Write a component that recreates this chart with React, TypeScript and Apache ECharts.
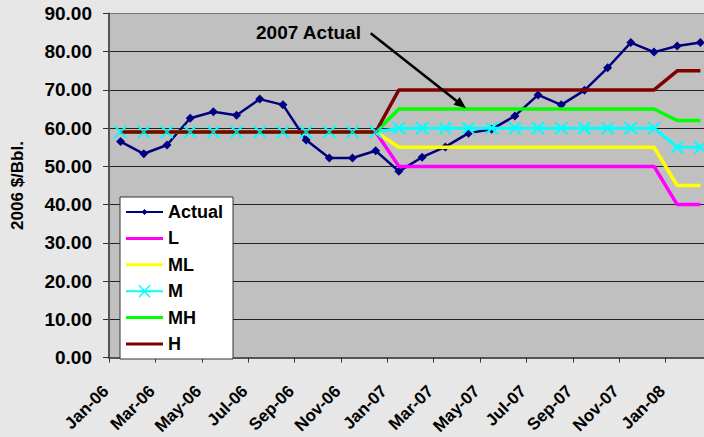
import React, { useEffect, useRef } from "react";
import * as echarts from "echarts";

const categories = [
  "Jan-06", "Feb-06", "Mar-06", "Apr-06", "May-06", "Jun-06", "Jul-06", "Aug-06", "Sep-06", "Oct-06", "Nov-06", "Dec-06",
  "Jan-07", "Feb-07", "Mar-07", "Apr-07", "May-07", "Jun-07", "Jul-07", "Aug-07", "Sep-07", "Oct-07", "Nov-07", "Dec-07",
  "Jan-08", "Feb-08",
];

const actual = [
  56.5, 53.3, 55.6, 62.6, 64.3, 63.4, 67.6, 66.1, 56.9, 52.2, 52.2, 54.1,
  48.7, 52.4, 55.1, 58.7, 59.7, 63.2, 68.7, 66.1, 69.9, 75.8, 82.4, 79.9,
  81.5, 82.4,
];
const low = [
  59, 59, 59, 59, 59, 59, 59, 59, 59, 59, 59, 59,
  50, 50, 50, 50, 50, 50, 50, 50, 50, 50, 50, 50,
  40, 40,
];
const midLow = [
  59, 59, 59, 59, 59, 59, 59, 59, 59, 59, 59, 59,
  55, 55, 55, 55, 55, 55, 55, 55, 55, 55, 55, 55,
  45, 45,
];
const mid = [
  59, 59, 59, 59, 59, 59, 59, 59, 59, 59, 59, 59,
  60, 60, 60, 60, 60, 60, 60, 60, 60, 60, 60, 60,
  55, 55,
];
const midHigh = [
  59, 59, 59, 59, 59, 59, 59, 59, 59, 59, 59, 59,
  65, 65, 65, 65, 65, 65, 65, 65, 65, 65, 65, 65,
  62, 62,
];
const high = [
  59, 59, 59, 59, 59, 59, 59, 59, 59, 59, 59, 59,
  70, 70, 70, 70, 70, 70, 70, 70, 70, 70, 70, 70,
  75, 75,
];

const yTicks = [0, 10, 20, 30, 40, 50, 60, 70, 80, 90];

const FONT = "'Liberation Sans', Arial, Helvetica, sans-serif";
const X_SYMBOL = "path://M0,1 L1,0 L5,4 L9,0 L10,1 L6,5 L10,9 L9,10 L5,6 L1,10 L0,9 L4,5 Z";

// legend icons drawn in a 37 x 14 box (tiny corner specks fix the bounding box)
const BOX = "M0,0 L0.01,0 L0,0.01 Z M37,14 L36.99,14 L37,13.99 Z ";
const ICON_LINE = "path://" + BOX + "M0,5.5 L37,5.5 L37,8.5 L0,8.5 Z";
const ICON_ACTUAL =
  "path://" + BOX + "M0,6 L37,6 L37,8 L0,8 Z M18.5,4 L21.5,7 L18.5,10 L15.5,7 Z";
const ICON_M =
  "path://" + BOX +
  "M0,6 L37,6 L37,8 L0,8 Z " +
  "M12.5,1.5 L13.5,0.5 L18.5,5.8 L23.5,0.5 L24.5,1.5 L19.4,7 L24.5,12.5 L23.5,13.5 L18.5,8.2 L13.5,13.5 L12.5,12.5 L17.6,7 Z";

export default function App() {
  const ref = useRef<HTMLDivElement>(null);

  useEffect(() => {
    if (!ref.current) return;
    const chart = echarts.init(ref.current, undefined, { renderer: "svg" });

    const lineSeries = (name: string, data: number[], color: string, z: number) => ({
      name,
      type: "line",
      data,
      symbol: "none",
      showSymbol: false,
      z,
      lineStyle: { color, width: 3.5 },
      itemStyle: { color },
    });

    const option: any = {
      animation: false,
      backgroundColor: "#e7e7e7",
      textStyle: { fontFamily: FONT },
      grid: {
        left: 109,
        top: 13.5,
        width: 603,
        height: 344,
        show: true,
        backgroundColor: "#c0c0c0",
        borderWidth: 0,
        containLabel: false,
        outerBoundsMode: "none",
      },
      legend: {
        orient: "vertical",
        left: 120,
        top: 197,
        data: [
          { name: "Actual", icon: ICON_ACTUAL },
          { name: "L", icon: ICON_LINE },
          { name: "ML", icon: ICON_LINE },
          { name: "M", icon: ICON_M },
          { name: "MH", icon: ICON_LINE },
          { name: "H", icon: ICON_LINE },
        ],
        backgroundColor: "#ffffff",
        borderColor: "#333333",
        borderWidth: 1,
        borderRadius: 0,
        padding: [6, 10, 6, 6],
        itemWidth: 37,
        itemHeight: 14,
        itemGap: 8.4,
        textStyle: {
          fontFamily: FONT,
          fontWeight: "bold",
          fontSize: 18,
          lineHeight: 18,
          color: "#000",
        },
      },
      xAxis: {
        type: "category",
        data: categories,
        boundaryGap: true,
        axisLine: { show: true, lineStyle: { color: "#555555", width: 2 } },
        axisTick: { show: true, interval: 1, length: 5, lineStyle: { color: "#333", width: 1 } },
        axisLabel: {
          interval: 1,
          rotate: 45,
          margin: 16,
          formatter: (v: string) => `{a|${v}}`,
          rich: {
            a: {
              fontFamily: FONT,
              fontWeight: "bold",
              fontSize: 17,
              color: "#000",
              padding: [0, 21, 0, 0],
            },
          },
          fontFamily: FONT,
          fontWeight: "bold",
          fontSize: 17,
          color: "#000",
        },
        splitLine: { show: false },
      },
      yAxis: {
        type: "value",
        min: yTicks[0],
        max: yTicks[yTicks.length - 1],
        interval: 10,
        name: "2006 $/Bbl.",
        nameLocation: "middle",
        nameGap: 83,
        nameRotate: 90,
        nameTextStyle: { fontFamily: FONT, fontWeight: "bold", fontSize: 17, color: "#000" },
        axisLine: { show: true, lineStyle: { color: "#555555", width: 2 } },
        axisTick: { show: true, length: 6, lineStyle: { color: "#333", width: 1 } },
        axisLabel: {
          margin: 17,
          formatter: (v: number) => v.toFixed(2),
          fontFamily: FONT,
          fontWeight: "bold",
          fontSize: 19,
          color: "#000",
        },
        splitLine: {
          show: true,
          lineStyle: {
            color: ["#222", "#222", "#222", "#222", "#222", "#222", "#222", "#222", "#222", "#777"],
            width: 1,
          },
        },
      },
      series: [
        {
          name: "Actual",
          type: "line",
          data: actual,
          symbol: "diamond",
          symbolSize: 9,
          z: 2,
          lineStyle: { color: "#000080", width: 2.5 },
          itemStyle: { color: "#000080" },
        },
        lineSeries("L", low, "#ff00ff", 3),
        lineSeries("ML", midLow, "#ffff00", 4),
        {
          name: "M",
          type: "line",
          data: mid,
          symbol: X_SYMBOL,
          symbolSize: 13,
          z: 5,
          lineStyle: { color: "#00ffff", width: 3 },
          itemStyle: { color: "#00ffff" },
        },
        lineSeries("MH", midHigh, "#00ff00", 6),
        lineSeries("H", high, "#800000", 7),
        {
          name: "M-markers",
          type: "scatter",
          data: mid,
          symbol: X_SYMBOL,
          symbolSize: 13,
          z: 9,
          silent: true,
          itemStyle: { color: "#00ffff" },
        },
      ],
      graphic: [
        {
          type: "text",
          left: 256,
          top: 23,
          style: {
            text: "2007 Actual",
            font: `bold 19px ${FONT}`,
            fill: "#000",
          },
          z: 100,
        },
        {
          type: "line",
          shape: { x1: 370.7, y1: 33.3, x2: 457, y2: 101.2 },
          style: { stroke: "#000", lineWidth: 2.5 },
          z: 100,
        },
        {
          type: "polygon",
          shape: { points: [[466, 108.3], [453.5, 104.8], [459.7, 97]] },
          style: { fill: "#000" },
          z: 100,
        },
      ],
    };

    chart.setOption(option);
    return () => chart.dispose();
  }, []);

  return (
    <div
      ref={ref}
      style={{ position: "fixed", left: 0, top: 0, width: 704, height: 437 }}
    />
  );
}
